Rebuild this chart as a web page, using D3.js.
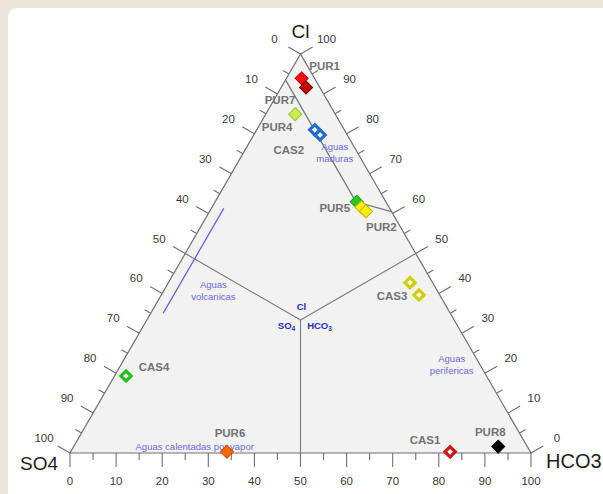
<!DOCTYPE html>
<html>
<head>
<meta charset="utf-8">
<script src="https://cdn.jsdelivr.net/npm/d3@7"></script>
<style>
  html, body { margin: 0; padding: 0; background: #ece5da; overflow: hidden; }
  svg { display: block; font-family: "Liberation Sans", Arial, sans-serif; }
</style>
</head>
<body>
<svg id="chart" width="603" height="494"></svg>
<script>
// samples, one row per plotted diamond (percent Cl / SO4 / HCO3)
var sampleIds = ["PUR1", "PUR7", "PUR4", "CAS2", "CAS2", "PUR5", "PUR2", "PUR2",
                 "CAS3", "CAS3", "CAS4", "PUR6", "CAS1", "PUR8"];
var clPct   = [93.9, 91.6, 84.9, 81.0, 79.7, 63.0, 61.6, 60.6, 42.7, 39.6, 19.3,  0.3,  0.3,  1.6];
var so4Pct  = [ 2.8,  3.0,  8.7,  6.4,  5.9,  6.3,  6.0,  5.5,  4.9,  4.5, 78.2, 65.8, 17.4,  6.3];
var hco3Pct = [ 3.3,  5.4,  6.4, 12.6, 14.4, 30.7, 32.4, 33.9, 52.4, 55.9,  2.5, 33.9, 82.3, 92.1];

var axisTicks = d3.range(0, 101, 5);
var axisLabels = d3.range(0, 101, 10);

// boundary of the "aguas maduras" field [Cl, SO4, HCO3]
var maduraCl   = [93.5, 63.0, 62.0, 60.5];
var maduraSo4  = [ 6.5,  6.5,  4.0,  0.0];
var maduraHco3 = [ 0.0, 30.5, 34.0, 39.5];

// line marking volcanic waters [Cl, SO4, HCO3]
var volcCl   = [61.3, 35.0];
var volcSo4  = [36.0, 62.3];
var volcHco3 = [ 2.7,  2.7];

// field names, placed at a ternary position
var fieldText = [["Aguas", "volcanicas"], ["Aguas", "maduras"], ["Aguas", "perifericas"], ["Aguas calentadas por vapor"]];
var fieldCl   = [40.6, 75.3, 22.2, 1.5];
var fieldHco3 = [10.8, 19.8, 71.7, 26.3];

var styles = {
  PUR1: {fill: "#ff1111", stroke: "#b30000", open: false},
  PUR7: {fill: "#c80000", stroke: "#7a0000", open: false},
  PUR4: {fill: "#c8ef4c", stroke: "#98c232", open: false},
  CAS2: {fill: "#ffffff", stroke: "#1f6fd2", open: true},
  PUR5: {fill: "#22cc22", stroke: "#129a12", open: false},
  PUR2: {fill: "#ffec12", stroke: "#c9b400", open: false},
  CAS3: {fill: "#ffffff", stroke: "#d0cf00", open: true},
  CAS4: {fill: "#ffffff", stroke: "#22c022", open: true},
  PUR6: {fill: "#ff6a00", stroke: "#d24c00", open: false},
  CAS1: {fill: "#ffffff", stroke: "#cc1818", open: true},
  PUR8: {fill: "#000000", stroke: "#000000", open: false}
};
// label offset from the first diamond of each sample
var labelOffset = {
  PUR1: [23, -12], PUR7: [-26, 12], PUR4: [-18, 13], CAS2: [-26, 20],
  PUR5: [-22, 6], PUR2: [20, 20], CAS3: [-18, 13], CAS4: [28, -9],
  PUR6: [3, -19], CAS1: [-25, -12], PUR8: [-8, -15]
};

var svg = d3.select("#chart");

// white card
svg.append("rect")
    .attr("x", 8).attr("y", 8)
    .attr("width", 640).attr("height", 520)
    .attr("rx", 9)
    .attr("fill", "#ffffff");

var x = d3.scaleLinear().domain([0, 100]).range([70, 531]);
var y = d3.scaleLinear().domain([0, 100]).range([453, 54]);

function proj(c, h) {
  return [x(h + c / 2), y(c)];
}

var A = proj(100, 0), B = proj(0, 0), C = proj(0, 100);
var g = svg.append("g");

g.append("path")
    .attr("d", "M" + A + "L" + B + "L" + C + "Z")
    .attr("fill", "#f2f2f2")
    .attr("stroke", "#707070")
    .attr("stroke-width", 1.2);

// lines from the centre to the middle of each side
var ctr = proj(100 / 3, 100 / 3);
[proj(50, 0), proj(50, 50), proj(0, 50)].forEach(function(p) {
  g.append("line")
      .attr("x1", ctr[0]).attr("y1", ctr[1])
      .attr("x2", p[0]).attr("y2", p[1])
      .attr("stroke", "#7a7a7a")
      .attr("stroke-width", 1.1);
});

// ticks and labels on the three sides
var axes = [
  {pos: function(v) { return proj(100 - v, 0); }, dir: [-0.866, -0.5]},   // SO4, left
  {pos: function(v) { return proj(v, 100 - v); }, dir: [0.866, -0.5]},    // Cl, right
  {pos: function(v) { return proj(0, v); }, dir: [0, 1]}                  // HCO3, bottom
];
axes.forEach(function(ax) {
  axisTicks.forEach(function(v) {
    var p = ax.pos(v), len = v % 10 === 0 ? 14 : 7;
    g.append("line")
        .attr("x1", p[0]).attr("y1", p[1])
        .attr("x2", p[0] + ax.dir[0] * len).attr("y2", p[1] + ax.dir[1] * len)
        .attr("stroke", "#707070")
        .attr("stroke-width", 1.1);
  });
  axisLabels.forEach(function(v) {
    var p = ax.pos(v), off = ax.dir[1] === 1 ? 28 : 30;
    g.append("text")
        .attr("x", p[0] + ax.dir[0] * off)
        .attr("y", p[1] + ax.dir[1] * off)
        .attr("dy", "0.35em")
        .attr("text-anchor", "middle")
        .attr("font-size", 11.5)
        .attr("fill", "#3a3a3a")
        .text(v);
  });
});

// axis titles
g.append("text").attr("x", A[0]).attr("y", 38).attr("text-anchor", "middle")
    .attr("font-size", 19).attr("fill", "#1e1e1e").text("Cl");
g.append("text").attr("x", 39).attr("y", 470).attr("text-anchor", "middle")
    .attr("font-size", 19).attr("fill", "#1e1e1e").text("SO4");
g.append("text").attr("x", 546).attr("y", 468).attr("text-anchor", "start")
    .attr("font-size", 20).attr("fill", "#1e1e1e").text("HCO3");

// centre label
var blue = "#2630c8";
g.append("text").attr("x", ctr[0] + 1).attr("y", ctr[1] - 13).attr("dy", "0.35em")
    .attr("text-anchor", "middle").attr("font-size", 9.5).attr("font-weight", "bold")
    .attr("fill", blue).text("Cl");
var so4t = g.append("text").attr("x", ctr[0] - 14).attr("y", ctr[1] + 6).attr("dy", "0.35em")
    .attr("text-anchor", "middle").attr("font-size", 9.5).attr("font-weight", "bold")
    .attr("fill", blue).text("SO");
so4t.append("tspan").attr("font-size", 6.5).attr("dy", "0.3em").text("4");
var hco3t = g.append("text").attr("x", ctr[0] + 19).attr("y", ctr[1] + 6).attr("dy", "0.35em")
    .attr("text-anchor", "middle").attr("font-size", 9.5).attr("font-weight", "bold")
    .attr("fill", blue).text("HCO");
hco3t.append("tspan").attr("font-size", 6.5).attr("dy", "0.3em").text("3");

// maduras boundary
var line = d3.line();
g.append("path")
    .attr("d", line(maduraCl.map(function(c, i) { return proj(c, maduraHco3[i]); })))
    .attr("fill", "none")
    .attr("stroke", "#7a7a7a")
    .attr("stroke-width", 1.3);

// volcanic line
g.append("path")
    .attr("d", line(volcCl.map(function(c, i) { return proj(c, volcHco3[i]); })))
    .attr("fill", "none")
    .attr("stroke", "#6464ec")
    .attr("stroke-width", 1.3);

// field names
fieldText.forEach(function(lines, i) {
  var p = proj(fieldCl[i], fieldHco3[i]);
  var t = g.append("text")
      .attr("x", p[0]).attr("y", p[1] - (lines.length - 1) * 6)
      .attr("text-anchor", "middle")
      .attr("font-size", 9.5)
      .attr("fill", "#6b6be0");
  lines.forEach(function(s, j) {
    t.append("tspan").attr("x", p[0]).attr("dy", j === 0 ? "0.35em" : 12).text(s);
  });
});

// sample labels
var seen = {};
sampleIds.forEach(function(id, i) {
  if (seen[id]) return;
  seen[id] = true;
  var p = proj(clPct[i], hco3Pct[i]), o = labelOffset[id];
  g.append("text")
      .attr("x", p[0] + o[0]).attr("y", p[1] + o[1])
      .attr("dy", "0.35em")
      .attr("text-anchor", "middle")
      .attr("font-size", 11.5)
      .attr("font-weight", "bold")
      .attr("fill", "#727272")
      .text(id);
});

// diamonds
var sym = d3.symbol().type(d3.symbolSquare);
g.selectAll(".pt")
    .data(sampleIds)
  .enter().append("path")
    .attr("class", "pt")
    .attr("d", function(id) { return sym.size(styles[id].open ? 52 : 84)(); })
    .attr("transform", function(id, i) {
      var p = proj(clPct[i], hco3Pct[i]);
      return "translate(" + p[0] + "," + p[1] + ")rotate(45)";
    })
    .attr("fill", function(id) { return styles[id].fill; })
    .attr("stroke", function(id) { return styles[id].stroke; })
    .attr("stroke-width", function(id) { return styles[id].open ? 3.2 : 1; });
</script>
</body>
</html>
